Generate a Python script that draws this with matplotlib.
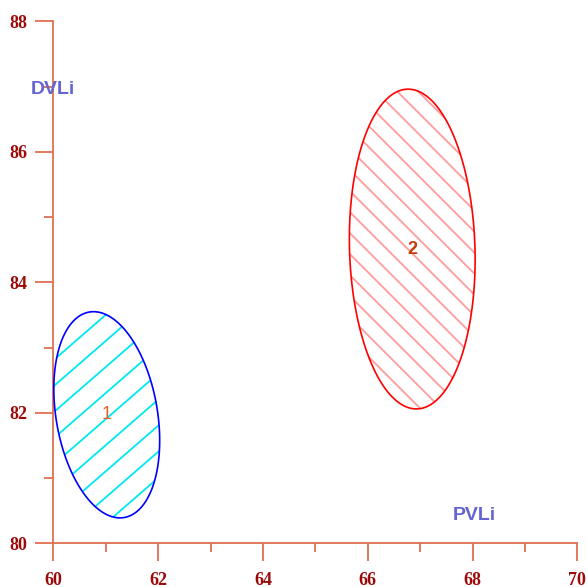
import numpy as np
import matplotlib.pyplot as plt
from matplotlib.patches import Polygon
from matplotlib.collections import LineCollection
from matplotlib.ticker import MultipleLocator

# group ellipses: centre, spread and correlation
groups = ["1", "2"]
centre_x = [61.02, 66.85]
centre_y = [81.97, 84.51]
sd_x = [1.01, 1.20]
sd_y = [1.58, 2.45]
corr = [-0.25, -0.065]

edge_cols = ["#0000FF", "#FF0000"]
hatch_cols = ["#00E8F0", "#FF9C9C"]
hatch_angle = [41, -45]      # degrees on screen
hatch_gap_px = [30, 21]      # horizontal gap between hatch lines
label_cols = ["#E0602E", "#C83A06"]
label_weight = ["normal", "bold"]

xlim = (60, 70)
ylim = (80, 88)

W, H, DPI = 5.87, 5.87, 100
fig = plt.figure(figsize=(W, H), dpi=DPI)
ax = fig.add_axes([0.0908, 0.0744, 0.8927, 0.8893])
ax.set_xlim(*xlim)
ax.set_ylim(*ylim)

# pixels per data unit, so hatch angles are right on screen
px_x = W * DPI * 0.8927 / (xlim[1] - xlim[0])
px_y = H * DPI * 0.8893 / (ylim[1] - ylim[0])

t = np.linspace(0, 2 * np.pi, 300)
for i, g in enumerate(groups):
    ex = centre_x[i] + sd_x[i] * np.cos(t)
    ey = centre_y[i] + sd_y[i] * (corr[i] * np.cos(t) + np.sqrt(1 - corr[i] ** 2) * np.sin(t))
    shape = Polygon(np.column_stack([ex, ey]), closed=True, facecolor="none",
                    edgecolor=edge_cols[i], lw=1.2, zorder=3, clip_on=False)
    ax.add_patch(shape)

    # hatch lines y = cy + k (x - cx) + c, clipped to the ellipse
    k = np.tan(np.radians(hatch_angle[i])) * px_x / px_y
    gap = hatch_gap_px[i] / px_x
    x0, x1 = ex.min() - 0.2, ex.max() + 0.2
    reach = (ey.max() - ey.min()) + abs(k) * (x1 - x0)
    segs = []
    for c in np.arange(-reach, reach, abs(k) * gap):
        segs.append([(x0, centre_y[i] + k * (x0 - centre_x[i]) + c),
                     (x1, centre_y[i] + k * (x1 - centre_x[i]) + c)])
    lc = LineCollection(segs, colors=hatch_cols[i], linewidths=1.3, zorder=2)
    ax.add_collection(lc)
    lc.set_clip_path(shape)

    ax.text(centre_x[i], centre_y[i], g, color=label_cols[i], fontsize=13,
            fontweight=label_weight[i], family="Liberation Sans",
            ha="center", va="center", zorder=4)

# axes styling
axis_col = "#E07050"
for s in ["top", "right"]:
    ax.spines[s].set_visible(False)
for s in ["left", "bottom"]:
    ax.spines[s].set_color(axis_col)
    ax.spines[s].set_linewidth(1.3)

ax.xaxis.set_major_locator(MultipleLocator(2))
ax.xaxis.set_minor_locator(MultipleLocator(1))
ax.yaxis.set_major_locator(MultipleLocator(2))
ax.yaxis.set_minor_locator(MultipleLocator(1))
ax.tick_params(which="major", direction="out", length=13, width=1.3,
               color=axis_col, labelcolor="#9C0A0A", labelsize=13)
ax.tick_params(which="minor", direction="out", length=6.5, width=1.3,
               color=axis_col)
ax.tick_params(axis="x", which="major", pad=8)
ax.tick_params(axis="y", which="major", pad=6)
for lab in ax.get_xticklabels() + ax.get_yticklabels():
    lab.set_fontfamily("Liberation Serif")
    lab.set_fontweight("bold")

ax.text(60.0, 86.95, "DVLi", color="#6464D2", fontsize=14, fontweight="bold",
        family="Liberation Sans", ha="center", va="center", zorder=5)
ax.text(68.03, 80.42, "PVLi", color="#6464D2", fontsize=14, fontweight="bold",
        family="Liberation Sans", ha="center", va="center", zorder=5)

fig.savefig("out.png", dpi=DPI)
